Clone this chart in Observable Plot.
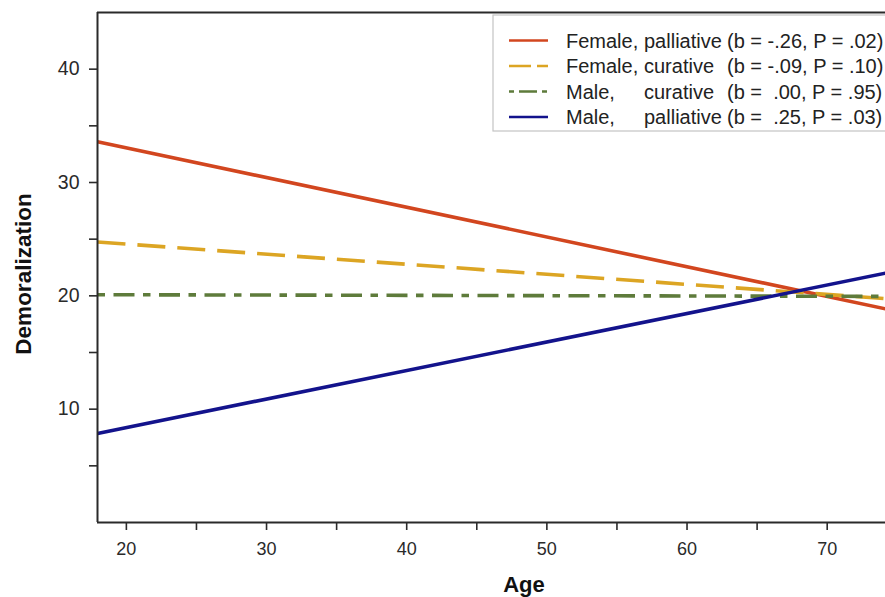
<!DOCTYPE html>
<html>
<head>
<meta charset="utf-8">
<script src="https://cdn.jsdelivr.net/npm/d3@7"></script>
<script src="https://cdn.jsdelivr.net/npm/@observablehq/plot@0.6"></script>
<style>
  html, body { margin: 0; padding: 0; background: #fff; }
  #chart { width: 885px; height: 597px; overflow: hidden; }
</style>
</head>
<body>
<div id="chart"></div>
<script>
// ---- data ----
const ages = [17.94, 74.16];                 // x extent of the visible panel
const femalePalliative = [33.6, 18.85];
const femaleCurative   = [24.75, 19.75];
const maleCurative     = [20.1, 19.95];
const malePalliative   = [7.86, 22.0];

const seriesNames = ["Female, palliative", "Female, curative", "Male, curative", "Male, palliative"];
const seriesColors = ["#d2461f", "#dca523", "#5e7b3b", "#13138c"];
const seriesDash = [null, "28,12", "7.5,8.5,21,8.5", null];

const legendCol1 = ["Female,", "Female,", "Male,", "Male,"];
const legendCol2 = ["palliative", "curative", "curative", "palliative"];
const legendCol3 = ["(b = -.26, P = .02)", "(b = -.09, P = .10)", "(b =  .00, P = .95)", "(b =  .25, P = .03)"];

const yMajor = [10, 20, 30, 40];
const yMinor = [5, 15, 25, 35];
const xMajor = [20, 30, 40, 50, 60, 70];
const xMinor = [25, 35, 45, 55, 65];
const yDomain = [0, 45];

const allValues = [femalePalliative, femaleCurative, maleCurative, malePalliative];
const rows = [];
allValues.forEach((vals, i) => vals.forEach((v, j) => rows.push({series: seriesNames[i], age: ages[j], value: v})));

const font = "'Liberation Sans', Arial, Helvetica, sans-serif";
const axisColor = "#2a2a2a";

const lineMarks = seriesNames.map((name, i) =>
  Plot.line(rows.filter(d => d.series === name), {
    x: "age", y: "value",
    stroke: seriesColors[i], strokeWidth: 3.6,
    strokeDasharray: seriesDash[i] || undefined,
    strokeLinecap: "butt"
  })
);

const chart = Plot.plot({
  width: 885, height: 597,
  marginLeft: 97, marginRight: 0, marginTop: 12, marginBottom: 75,
  x: {domain: [ages[0], ages[1]]},
  y: {domain: yDomain},
  style: {fontFamily: font, background: "#fff", color: axisColor, overflow: "visible"},
  marks: [
    Plot.axisY({ticks: yMajor, tickSize: 8, tickPadding: 10, fontSize: 19.5, label: null, stroke: axisColor, strokeWidth: 1.6}),
    Plot.axisY({ticks: yMinor, tickSize: 8, tickFormat: () => "", label: null, stroke: axisColor, strokeWidth: 1.6}),
    Plot.axisX({ticks: xMajor, tickSize: 8, tickPadding: 12, fontSize: 18, label: null, stroke: axisColor, strokeWidth: 1.6}),
    Plot.axisX({ticks: xMinor, tickSize: 8, tickFormat: () => "", label: null, stroke: axisColor, strokeWidth: 1.6}),
    ...lineMarks,
    Plot.ruleY([yDomain[0], yDomain[1]], {stroke: axisColor, strokeWidth: 2}),
    Plot.ruleX([ages[0]], {stroke: axisColor, strokeWidth: 2})
  ]
});

document.getElementById("chart").appendChild(chart);

// ---- axis titles and legend ----
const svg = d3.select(chart);

svg.append("text")
  .attr("transform", "translate(31,274) rotate(-90)")
  .attr("text-anchor", "middle")
  .attr("font-family", font).attr("font-weight", "bold").attr("font-size", 22.5)
  .attr("fill", "#111")
  .text("Demoralization");

svg.append("text")
  .attr("x", 524).attr("y", 592)
  .attr("text-anchor", "middle")
  .attr("font-family", font).attr("font-weight", "bold").attr("font-size", 22)
  .attr("fill", "#111")
  .text("Age");

const lg = svg.append("g").attr("text-anchor", "start");
lg.append("rect")
  .attr("x", 493).attr("y", 15).attr("width", 420).attr("height", 116)
  .attr("fill", "#fff").attr("stroke", "#c4c4c4").attr("stroke-width", 1.2);

const rowCenters = [40.5, 66, 91.5, 117];
const fs = 20;
seriesNames.forEach((name, i) => {
  const cy = rowCenters[i];
  lg.append("line")
    .attr("x1", 509).attr("x2", 548).attr("y1", cy).attr("y2", cy)
    .attr("stroke", seriesColors[i]).attr("stroke-width", 2.6)
    .attr("stroke-dasharray", i === 1 ? "22,6,11,6" : i === 2 ? "5,5,18,5,5,5" : null);
  const t = lg.append("text")
    .attr("y", cy + 7)
    .attr("text-anchor", "start")
    .attr("font-family", font).attr("font-size", fs)
    .attr("fill", "#222")
    .attr("xml:space", "preserve")
    .style("white-space", "pre");
  t.append("tspan").attr("x", 566).text(legendCol1[i]);
  t.append("tspan").attr("x", 644).text(legendCol2[i]);
  t.append("tspan").attr("x", 727).text(legendCol3[i]);
});
</script>
</body>
</html>
